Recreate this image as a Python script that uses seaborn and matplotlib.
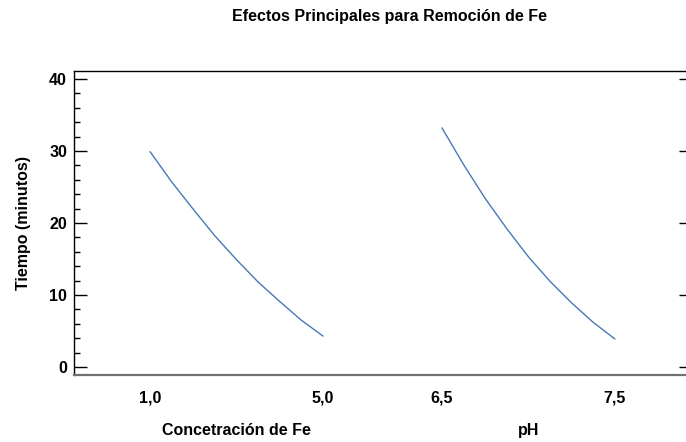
import numpy as np
import pandas as pd
import matplotlib
matplotlib.use("Agg")
import matplotlib.pyplot as plt
import seaborn as sns
from matplotlib.ticker import MultipleLocator

sns.set_style("white")
plt.rcParams['font.family'] = ['Liberation Sans', 'DejaVu Sans']
plt.rcParams['text.color'] = 'black'
plt.rcParams['xtick.color'] = 'black'
plt.rcParams['ytick.color'] = 'black'
plt.rcParams['axes.labelcolor'] = 'black'

# Data
fe_levels = [1.0, 1.5, 2.0, 2.5, 3.0, 3.5, 4.0, 4.5, 5.0]
fe_tiempo = [29.9, 25.7, 21.9, 18.2, 14.9, 11.8, 9.1, 6.5, 4.3]
ph_levels = [6.5, 6.625, 6.75, 6.875, 7.0, 7.125, 7.25, 7.375, 7.5]
ph_tiempo = [33.2, 28.1, 23.4, 19.2, 15.3, 11.9, 8.9, 6.2, 3.9]
factor_names = ["Concetración de Fe", "pH"]
tick_labels = ["1,0", "5,0", "6,5", "7,5"]

gap = 0.688
fe_lo, fe_hi = fe_levels[0], fe_levels[-1]
ph_lo, ph_hi = ph_levels[0], ph_levels[-1]
df = pd.concat([
    pd.DataFrame({"factor": factor_names[0],
                  "pos": [(v - fe_lo) / (fe_hi - fe_lo) for v in fe_levels],
                  "tiempo": fe_tiempo}),
    pd.DataFrame({"factor": factor_names[1],
                  "pos": [1 + gap + (v - ph_lo) / (ph_hi - ph_lo) for v in ph_levels],
                  "tiempo": ph_tiempo}),
])

fig = plt.figure(figsize=(6.86, 4.42), dpi=100)
W, H = 686, 442
ax = fig.add_axes([74 / W, 1 - 375 / H, 617 / W, (375 - 71) / H])

line_color = "#4a78b5"
sns.lineplot(data=df, x="pos", y="tiempo", hue="factor",
             palette=[line_color, line_color], legend=False, sort=False,
             linewidth=1.0, ax=ax, estimator=None)

fs = 11.5
ax.set_xlim(-0.44, 1 + gap + 1 + 0.44)
ax.set_ylim(-1.1, 41.1)
ax.yaxis.set_major_locator(MultipleLocator(10))
ax.yaxis.set_minor_locator(MultipleLocator(2))
ax.set_xticks([0, 1, 1 + gap, 2 + gap])
ax.set_xticklabels(tick_labels)
ax.tick_params(axis='x', length=0, pad=11, labelsize=fs)
for lab in ax.get_xticklabels():
    lab.set_fontweight('bold')
ax.tick_params(axis='y', which='major', direction='in', length=9, width=1,
               left=True, right=True, labelsize=fs, pad=5, color='black')
ax.tick_params(axis='y', which='minor', direction='in', length=4.5, width=1,
               left=True, right=False, color='black')
for lab in ax.get_yticklabels():
    lab.set_fontweight('bold')

ax.set_xlabel("")
ax.set_ylabel("Tiempo (minutos)", fontsize=fs, fontweight='bold', labelpad=13)

for s in ["left", "top", "right"]:
    ax.spines[s].set_color("black")
    ax.spines[s].set_linewidth(1.0)
ax.spines["bottom"].set_color("#707070")
ax.spines["bottom"].set_linewidth(1.6)

ax.text(0.5, -0.183, factor_names[0], transform=ax.get_xaxis_transform(),
        ha='center', va='center', fontsize=fs, fontweight='bold')
ax.text(1.5 + gap, -0.183, factor_names[1], transform=ax.get_xaxis_transform(),
        ha='center', va='center', fontsize=fs, fontweight='bold')

fig.text(390 / W, 1 - 17 / H, "Efectos Principales para Remoción de Fe",
         ha='center', va='center', fontsize=fs, fontweight='bold')

fig.savefig("out.png", dpi=100)
